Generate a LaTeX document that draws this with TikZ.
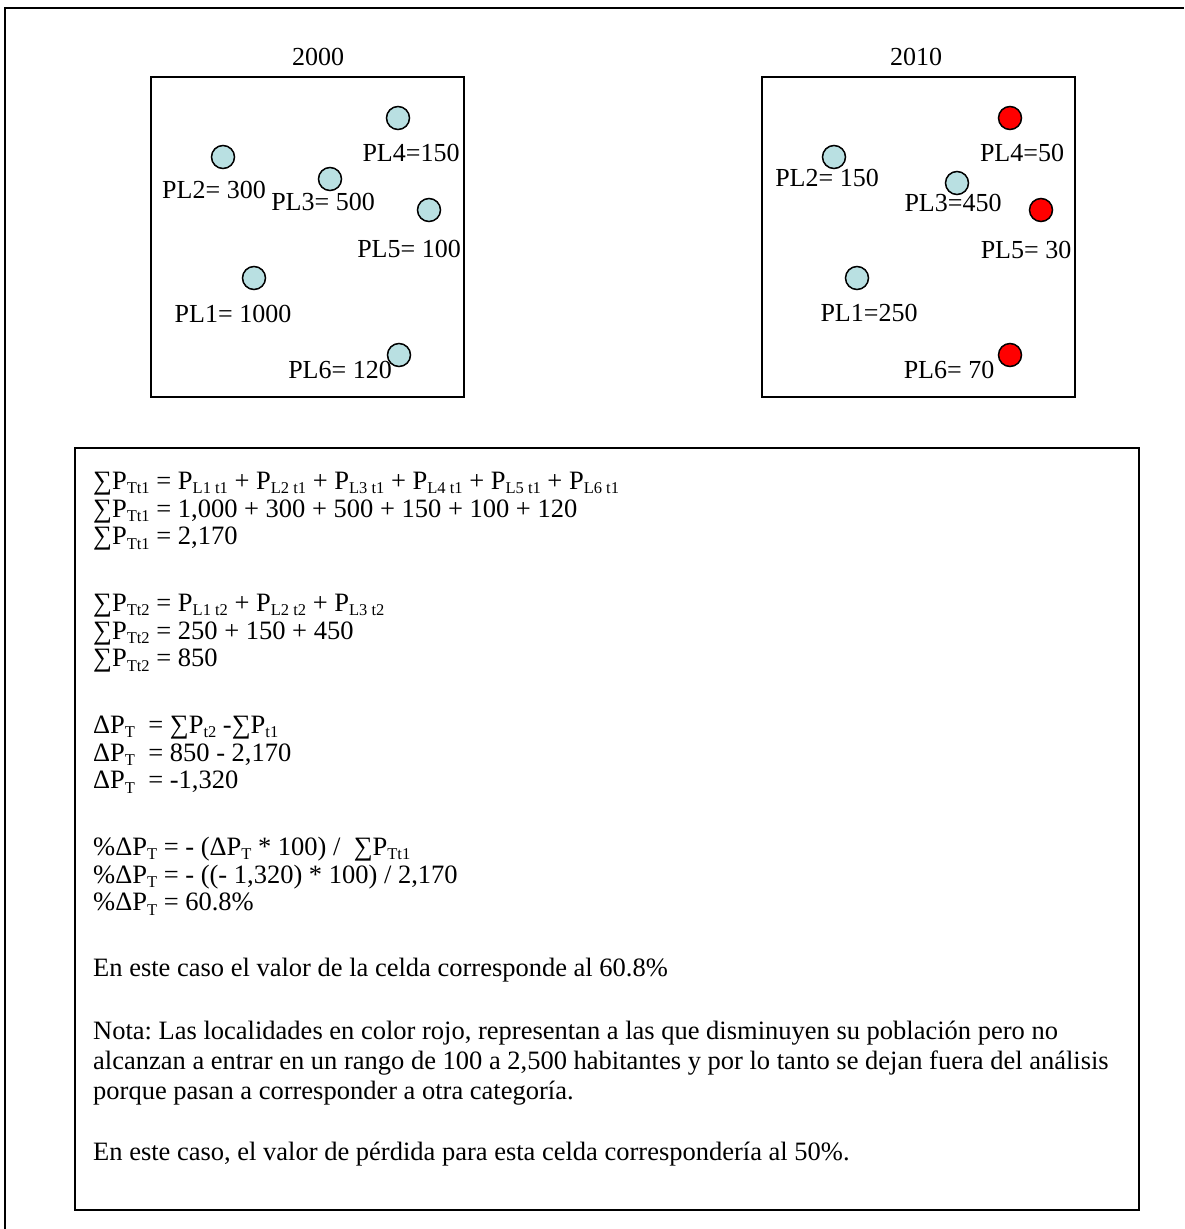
\documentclass[tikz,border=0pt]{standalone}
\usepackage{fontspec}
\setmainfont{Liberation Serif}
\frenchspacing
\definecolor{plblue}{RGB}{185,224,226}
\definecolor{plred}{RGB}{255,0,0}
\newcommand{\lo}[1]{\raisebox{-0.17em}{\fontsize{16.5}{16.5}\selectfont #1}}
\tikzset{
  frame/.style={draw=black, line width=2.2pt},
  mapbox/.style={draw=black, line width=1.8pt},
  loc/.style={circle, draw=black, line width=1.5pt, minimum size=23pt, inner sep=0pt},
  blueloc/.style={loc, fill=plblue},
  redloc/.style={loc, fill=plred},
  lbl/.style={inner sep=0pt, font=\fontsize{26}{30}\selectfont},
  fl/.style={inner sep=0pt, anchor=base west, font=\fontsize{26.5}{30}\selectfont},
}
\begin{document}
\begin{tikzpicture}[x=1pt,y=-1pt]
\useasboundingbox (0,0) rectangle (1184,1229);
\fill[white] (0,0) rectangle (1184,1229);
% outer frame (only left and top edges visible)
\draw[frame] (5,1229) -- (5,8) -- (1184,8);
% map boxes
\node[lbl] (t2000) at (318,57) {2000};
\node[lbl] (t2010) at (916,57) {2010};
\draw[mapbox] (151,77) rectangle (464,397);
\draw[mapbox] (762,77) rectangle (1075,397);
% labels 2000
\node[lbl] (a4) at (411,153) {PL4=150};
\node[lbl] (a2) at (214,190) {PL2= 300};
\node[lbl] (a3) at (323,202) {PL3= 500};
\node[lbl] (a5) at (409,249) {PL5= 100};
\node[lbl] (a1) at (233,314) {PL1= 1000};
\node[lbl] (a6) at (340,370) {PL6= 120};
% circles 2000
\node[blueloc] (c4) at (398,118) {};
\node[blueloc] (c2) at (223,157) {};
\node[blueloc] (c3) at (330,179) {};
\node[blueloc] (c5) at (429,210) {};
\node[blueloc] (c1) at (254,278) {};
\node[blueloc] (c6) at (399,355) {};
% labels 2010
\node[lbl] (b4) at (1022,153) {PL4=50};
\node[lbl] (b2) at (827,178) {PL2= 150};
\node[lbl] (b3) at (953,203) {PL3=450};
\node[lbl] (b5) at (1026,250) {PL5= 30};
\node[lbl] (b1) at (869,313) {PL1=250};
\node[lbl] (b6) at (949,370) {PL6= 70};
% circles 2010
\node[redloc] (d4) at (1010,118) {};
\node[blueloc] (d2) at (834,157) {};
\node[blueloc] (d3) at (957,183) {};
\node[redloc] (d5) at (1041,210) {};
\node[blueloc] (d1) at (857,278) {};
\node[redloc] (d6) at (1010,355) {};
% calculation box
\draw[mapbox] (75,448) rectangle (1139,1210);
\node[fl] (f1) at (93,489) {∑P\lo{Tt1} = P\lo{L1 t1} + P\lo{L2 t1} + P\lo{L3 t1} + P\lo{L4 t1} + P\lo{L5 t1} + P\lo{L6 t1}};
\node[fl] (f2) at (93,517) {∑P\lo{Tt1} = 1,000 + 300 + 500 + 150 + 100 + 120};
\node[fl] (f3) at (93,544.5) {∑P\lo{Tt1} = 2,170};
\node[fl] (f5) at (93,611) {∑P\lo{Tt2} = P\lo{L1 t2} + P\lo{L2 t2} + P\lo{L3 t2}};
\node[fl] (f6) at (93,639) {∑P\lo{Tt2} = 250 + 150 + 450};
\node[fl] (f7) at (93,666.5) {∑P\lo{Tt2} = 850};
\node[fl] (f9) at (93,733) {ΔP\lo{T}\ \ = ∑P\lo{t2} -∑P\lo{t1}};
\node[fl] (f10) at (93,761) {ΔP\lo{T}\ \ = 850 - 2,170};
\node[fl] (f11) at (93,788.5) {ΔP\lo{T}\ \ = -1,320};
\node[fl] (f13) at (93,855) {\%ΔP\lo{T} = - (ΔP\lo{T} * 100) /\ \ ∑P\lo{Tt1}};
\node[fl] (f14) at (93,883) {\%ΔP\lo{T} = - ((- 1,320) * 100) / 2,170};
\node[fl] (f15) at (93,910.5) {\%ΔP\lo{T} = 60.8\%};
\node[fl] (en1) at (93,976) {En este caso el valor de la celda corresponde al 60.8\%};
\node[fl] (n1) at (93,1039) {Nota: Las localidades en color rojo, representan a las que disminuyen su población pero no};
\node[fl] (n2) at (93,1069) {alcanzan a entrar en un rango de 100 a 2,500 habitantes y por lo tanto se dejan fuera del análisis};
\node[fl] (n3) at (93,1099) {porque pasan a corresponder a otra categoría.};
\node[fl] (en2) at (93,1160) {En este caso, el valor de pérdida para esta celda correspondería al 50\%.};
\end{tikzpicture}
\end{document}
